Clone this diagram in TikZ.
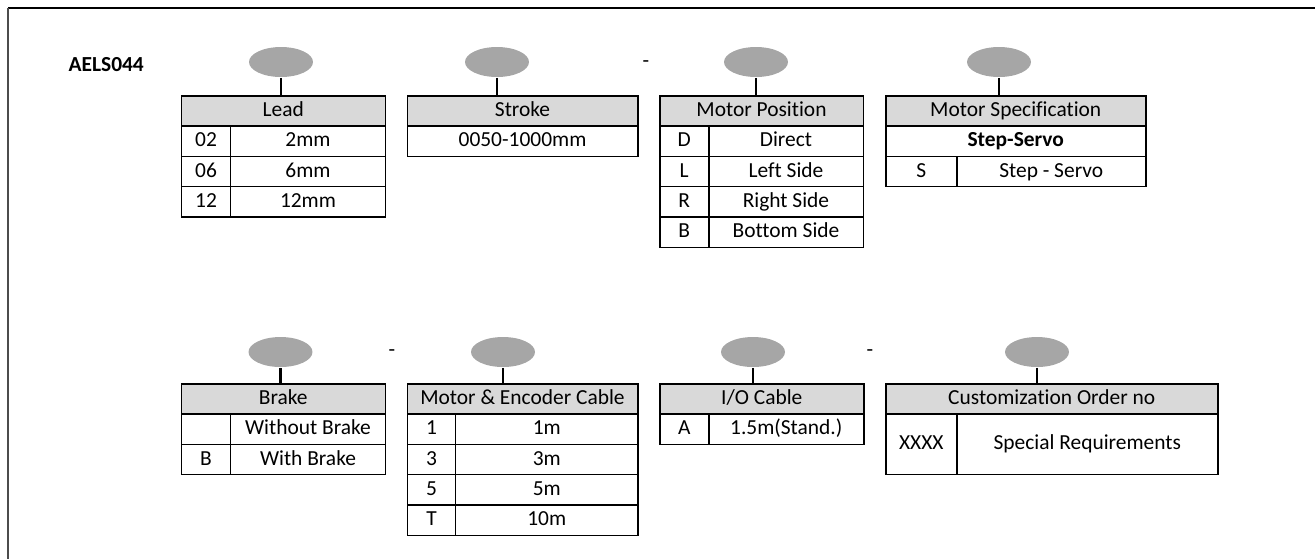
\documentclass[tikz,border=0pt]{standalone}
\usepackage{fontspec}
\setmainfont{Carlito}[Ligatures=NoCommon]
\usetikzlibrary{shapes.geometric}

\definecolor{taggray}{HTML}{A6A6A6}
\definecolor{headgray}{HTML}{D9D9D9}

\begin{document}
\begin{tikzpicture}[x=0.02cm, y=-0.02cm, line width=0.85pt,
    font=\fontsize{12.2}{14}\selectfont,
    tag/.style={ellipse, fill=taggray, minimum width=1.28cm, minimum height=0.6cm, inner sep=0pt},
    box/.style 2 args={draw, anchor=north west, inner sep=0pt,
      text height=0.85em, text depth=0.22em,
      minimum width=#1*0.02cm, minimum height=#2*0.02cm},
    head/.style={fill=headgray},
    stem/.style={line width=1.2pt}]

  \useasboundingbox (0,0) rectangle (1315,559);

  % Frame (only top and left edges show)
  \draw[line width=1.2pt] (1315,8) -- (8,8);
  \draw[line width=1.2pt, black!70] (8,8) -- (8,559);

  % Model name
  \node[anchor=west, font=\fontsize{12.2}{14}\selectfont\bfseries] (model) at (62,65) {AELS044};

  % Code tags, top row
  \node[tag] (t1) at (281,62) {};
  \node[tag] (t2) at (497,62) {};
  \node[tag] (t3) at (756,62) {};
  \node[tag] (t4) at (999,62) {};

  % Code tags, bottom row
  \node[tag] (b1) at (280.5,352) {};
  \node[tag] (b2) at (503,352) {};
  \node[tag] (b3) at (753,352) {};
  \node[tag] (b4) at (1037,352) {};

  % Hyphens between the codes
  \node (dash1) at (646,64) {-};
  \node (dash2) at (392,353) {-};
  \node (dash3) at (870,353) {-};

  % Lead
  \node[box={204}{30.3}, head] (lead) at (180.5,95) {Lead};
  \node[box={49.5}{30.3}] (lead1) at (180.5,125.3) {02};
  \node[box={154.5}{30.3}] (lead1v) at (230,125.3) {2mm};
  \node[box={49.5}{30.3}] (lead2) at (180.5,155.6) {06};
  \node[box={154.5}{30.3}] (lead2v) at (230,155.6) {6mm};
  \node[box={49.5}{30.3}] (lead3) at (180.5,185.9) {12};
  \node[box={154.5}{30.3}] (lead3v) at (230,185.9) {12mm};

  % Stroke
  \node[box={230.5}{30.3}, head] (stroke) at (406.5,95) {Stroke};
  \node[box={230.5}{30.3}] (stroke1) at (406.5,125.3) {0050-1000mm};

  % Motor position
  \node[box={203.5}{30.3}, head] (mpos) at (659,95) {Motor Position};
  \node[box={49}{30.3}] (mpos1) at (659,125.3) {D};
  \node[box={154.5}{30.3}] (mpos1v) at (708,125.3) {Direct};
  \node[box={49}{30.3}] (mpos2) at (659,155.6) {L};
  \node[box={154.5}{30.3}] (mpos2v) at (708,155.6) {Left Side};
  \node[box={49}{30.3}] (mpos3) at (659,185.9) {R};
  \node[box={154.5}{30.3}] (mpos3v) at (708,185.9) {Right Side};
  \node[box={49}{30.3}] (mpos4) at (659,216.2) {B};
  \node[box={154.5}{30.3}] (mpos4v) at (708,216.2) {Bottom Side};

  % Motor specification
  \node[box={260}{30.3}, head] (mspec) at (885,95) {Motor Specification};
  \node[box={260}{30.3}, font=\fontsize{12.2}{14}\selectfont\bfseries] (mspec0) at (885,125.3) {Step-Servo};
  \node[box={71}{30.3}] (mspec1) at (885,155.6) {S};
  \node[box={189}{30.3}] (mspec1v) at (956,155.6) {Step - Servo};

  % Brake
  \node[box={204}{30.3}, head] (brake) at (180.5,383) {Brake};
  \node[box={49.5}{30.3}] (brake1) at (180.5,413.3) {};
  \node[box={154.5}{30.3}] (brake1v) at (230,413.3) {Without Brake};
  \node[box={49.5}{30.3}] (brake2) at (180.5,443.6) {B};
  \node[box={154.5}{30.3}] (brake2v) at (230,443.6) {With Brake};

  % Motor & encoder cable
  \node[box={230.5}{30.3}, head] (mcab) at (406.5,383) {Motor \& Encoder Cable};
  \node[box={48.5}{30.3}] (mcab1) at (406.5,413.3) {1};
  \node[box={182}{30.3}] (mcab1v) at (455,413.3) {1m};
  \node[box={48.5}{30.3}] (mcab2) at (406.5,443.6) {3};
  \node[box={182}{30.3}] (mcab2v) at (455,443.6) {3m};
  \node[box={48.5}{30.3}] (mcab3) at (406.5,473.9) {5};
  \node[box={182}{30.3}] (mcab3v) at (455,473.9) {5m};
  \node[box={48.5}{30.3}] (mcab4) at (406.5,504.2) {T};
  \node[box={182}{30.3}] (mcab4v) at (455,504.2) {10m};

  % I/O cable
  \node[box={204}{30.3}, head] (iocab) at (659,383) {I/O Cable};
  \node[box={49}{30.3}] (iocab1) at (659,413.3) {A};
  \node[box={155}{30.3}] (iocab1v) at (708,413.3) {1.5m(Stand.)};

  % Customization order
  \node[box={332}{30.3}, head] (cust) at (885,383) {Customization Order no};
  \node[box={71}{60.6}] (cust1) at (885,413.3) {XXXX};
  \node[box={261}{60.6}] (cust1v) at (956,413.3) {Special Requirements};

  % Stems from tags down to the headers
  \draw[stem] (t1.south) -- (t1.south |- lead.north);
  \draw[stem] (t2.south) -- (t2.south |- stroke.north);
  \draw[stem] (t3.south) -- (t3.south |- mpos.north);
  \draw[stem] (t4.south) -- (t4.south |- mspec.north);
  \draw[stem] (b1.south) -- (b1.south |- brake.north);
  \draw[stem] (b2.south) -- (b2.south |- mcab.north);
  \draw[stem] (b3.south) -- (b3.south |- iocab.north);
  \draw[stem] (b4.south) -- (b4.south |- cust.north);

\end{tikzpicture}
\end{document}
